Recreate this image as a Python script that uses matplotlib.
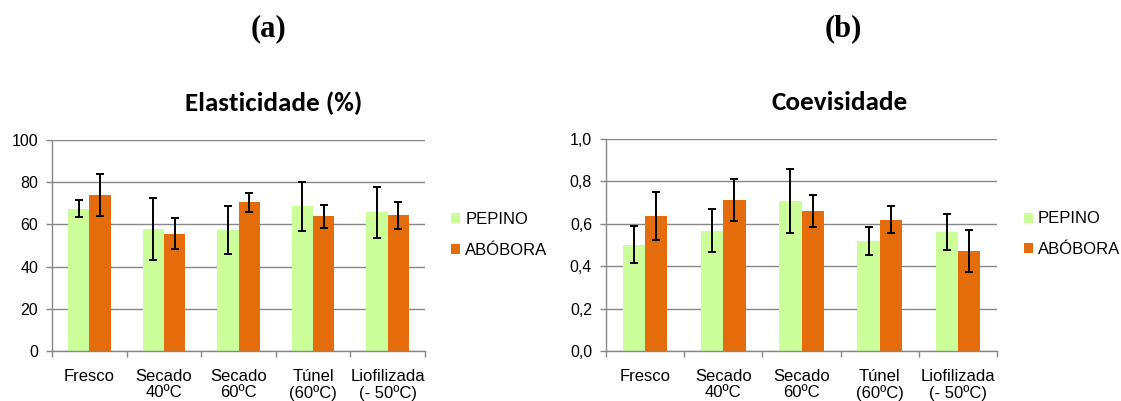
import matplotlib
matplotlib.use("Agg")
import matplotlib.pyplot as plt
import numpy as np
from matplotlib.ticker import FuncFormatter

categorias = ["Fresco", "Secado\n40ºC", "Secado\n60ºC", "Túnel\n(60ºC)", "Liofilizada\n(- 50ºC)"]
series = ["PEPINO", "ABÓBORA"]

elast_pepino = [67.4, 57.8, 57.5, 68.6, 65.7]
elast_pepino_err = [4.0, 14.5, 11.3, 11.5, 12.2]
elast_abobora = [73.9, 55.5, 70.5, 63.8, 64.3]
elast_abobora_err = [10.0, 7.3, 4.5, 5.3, 6.4]

coev_pepino = [0.502, 0.568, 0.707, 0.520, 0.561]
coev_pepino_err = [0.086, 0.10, 0.15, 0.065, 0.085]
coev_abobora = [0.638, 0.713, 0.660, 0.619, 0.472]
coev_abobora_err = [0.113, 0.10, 0.074, 0.063, 0.10]

verde = "#CCFF99"
laranja = "#E46C0A"
cinza = "#878787"

plt.rcParams["font.family"] = ["Liberation Sans", "DejaVu Sans"]

fig = plt.figure(figsize=(11.21, 4.01), dpi=100)


def grafico(ax, pep, pep_err, abo, abo_err, ymax, step, fmt):
    x = np.arange(len(categorias))
    w = 0.286
    err_kw = dict(ecolor="black", elinewidth=1.4, capsize=2.6, capthick=1.4)
    ax.bar(x - w / 2, pep, w, yerr=pep_err, color=verde, label=series[0],
           error_kw=err_kw, zorder=2)
    ax.bar(x + w / 2, abo, w, yerr=abo_err, color=laranja, label=series[1],
           error_kw=err_kw, zorder=2)
    ax.set_xlim(-0.5, len(categorias) - 0.5)
    ax.set_ylim(0, ymax)
    ax.set_yticks(np.arange(0, ymax + step / 2, step))
    ax.yaxis.set_major_formatter(FuncFormatter(fmt))
    ax.grid(axis="y", color=cinza, linewidth=1.0, zorder=0)
    ax.set_axisbelow(True)
    for s in ["top", "right"]:
        ax.spines[s].set_visible(False)
    for s in ["left", "bottom"]:
        ax.spines[s].set_color(cinza)
        ax.spines[s].set_linewidth(1.0)
    # ticks de x entre categorias, rotulos ao centro
    ax.set_xticks(np.arange(-0.5, len(categorias), 1.0))
    ax.set_xticklabels([])
    ax.set_xticks(x, minor=True)
    ax.set_xticklabels(categorias, minor=True, fontsize=12, linespacing=1.1)
    ax.tick_params(axis="x", which="minor", length=0, pad=13)
    ax.tick_params(axis="x", which="major", length=4, color=cinza, width=1.0)
    ax.tick_params(axis="y", length=4, color=cinza, width=1.0, labelsize=11.5, pad=6)
    ax.legend(loc="center left", bbox_to_anchor=(1.03, 0.55), frameon=False,
              fontsize=12, handlelength=0.55, handleheight=0.55, handletextpad=0.3,
              labelspacing=0.95)


ax1 = fig.add_axes([52 / 1121, 1 - 351 / 401, 373 / 1121, 211 / 401])
grafico(ax1, elast_pepino, elast_pepino_err, elast_abobora, elast_abobora_err,
        100, 20, lambda v, p: f"{v:.0f}")

ax2 = fig.add_axes([606 / 1121, 1 - 351 / 401, 391 / 1121, 212 / 401])
grafico(ax2, coev_pepino, coev_pepino_err, coev_abobora, coev_abobora_err,
        1.0, 0.2, lambda v, p: f"{v:.1f}".replace(".", ","))

serif = ["Liberation Serif", "DejaVu Serif"]
titulo = ["Carlito", "Lato", "DejaVu Sans"]
fig.text(268 / 1121, 1 - 29 / 401, "(a)", ha="center", va="center",
         fontsize=22, fontweight="bold", family=serif)
fig.text(843 / 1121, 1 - 29 / 401, "(b)", ha="center", va="center",
         fontsize=22, fontweight="bold", family=serif)
fig.text(274 / 1121, 1 - 103 / 401, "Elasticidade (%)", ha="center", va="center",
         fontsize=19.5, fontweight="bold", family=titulo)
fig.text(840 / 1121, 1 - 103 / 401, "Coevisidade", ha="center", va="center",
         fontsize=19.5, fontweight="bold", family=titulo)

fig.savefig("out.png", dpi=100)
